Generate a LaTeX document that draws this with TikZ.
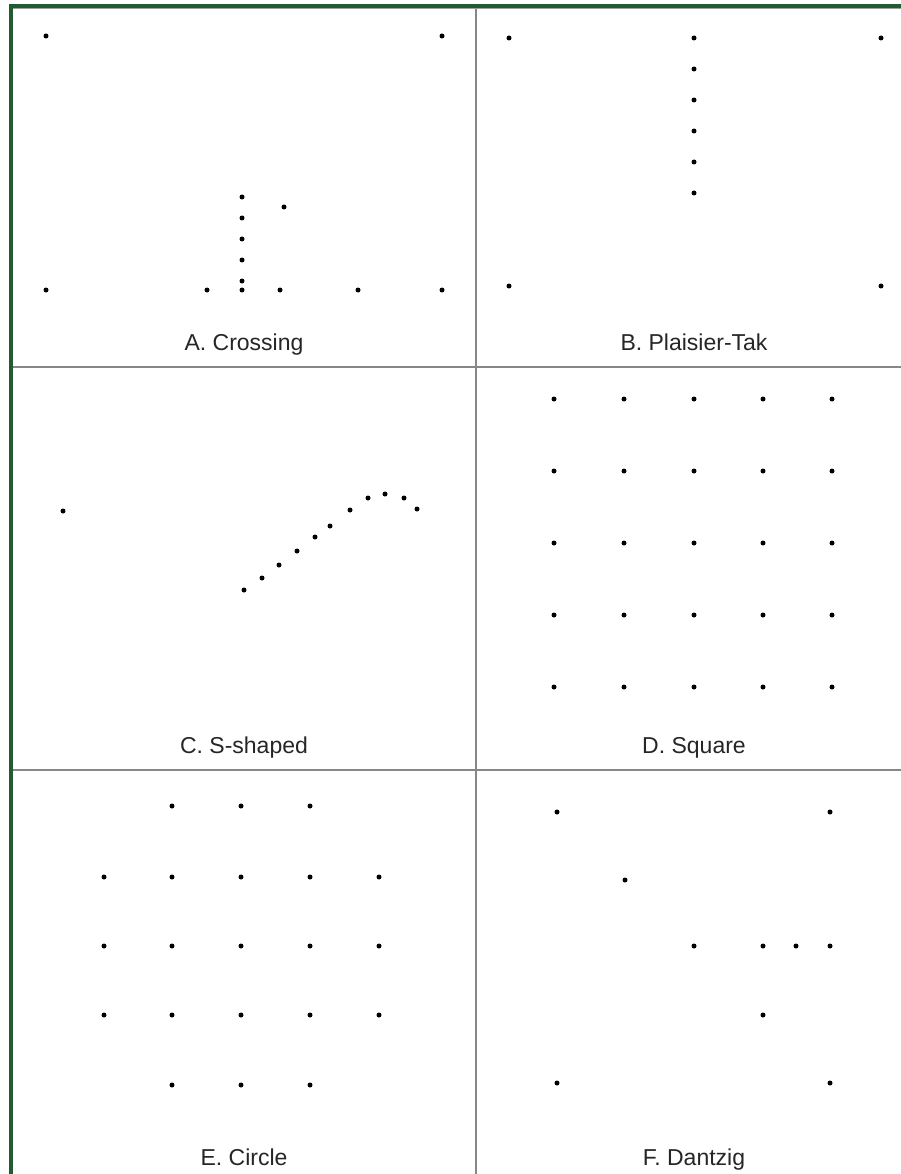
\documentclass[tikz,border=0pt]{standalone}
\usepackage{fontspec}
\setmainfont{Liberation Sans}
\definecolor{framegreen}{RGB}{32,92,48}
\definecolor{gridgray}{RGB}{135,135,135}
\begin{document}
\begin{tikzpicture}[x=1pt,y=-1pt,
  dot/.style={circle,fill=black,inner sep=0pt,minimum size=5pt},
  lbl/.style={anchor=base,inner sep=0pt,font=\fontsize{23}{26}\selectfont,text=black!85},
  gridline/.style={draw=gridgray,line width=2pt},
  frameline/.style={draw=framegreen,line width=3.2pt}]
\useasboundingbox (0,0) rectangle (901,1174);
\fill[white] (0,0) rectangle (901,1174);
% grid
\coordinate (vt) at (476,7);
\coordinate (vb) at (476,1174);
\coordinate (h1l) at (12,367);
\coordinate (h1r) at (901,367);
\coordinate (h2l) at (12,770);
\coordinate (h2r) at (901,770);
\draw[gridline] (vt) -- (vb);
\draw[gridline] (h1l) -- (h1r);
\draw[gridline] (h2l) -- (h2r);
% frame
\coordinate (ftl) at (11,6);
\coordinate (ftr) at (901,6);
\coordinate (fbl) at (11,1174);
\coordinate (gl) at (12,8.6);
\coordinate (gr) at (901,8.6);
\draw[draw=gridgray!80,line width=1.2pt] (gl) -- (gr);
\draw[frameline] (fbl) -- (ftl) -- (ftr);
% A. Crossing
\foreach \x/\y [count=\i] in {46/36,442/36,46/290,207/290,242/290,280/290,358/290,442/290,
  242/197,242/218,242/239,242/260,242/281,284/207}
  \node[dot] (a\i) at (\x,\y) {};
\node[lbl] (la) at (244,350) {A. Crossing};
% B. Plaisier-Tak
\foreach \x/\y [count=\i] in {509/38,881/38,694/38,694/69,694/100,694/131,694/162,694/193,509/286,881/286}
  \node[dot] (b\i) at (\x,\y) {};
\node[lbl] (lb) at (694,350) {B. Plaisier-Tak};
% C. S-shaped
\foreach \x/\y [count=\i] in {63/511,244/590,262/578,279/565,297/551,315/537,330/526,350/510,368/498,385/494,404/498,417/509}
  \node[dot] (c\i) at (\x,\y) {};
\node[lbl] (lc) at (244,753) {C. S-shaped};
% D. Square
\foreach \x [count=\i] in {554,624,694,763,832}
  \foreach \y [count=\j] in {399,471,543,615,687}
    \node[dot] (d\i-\j) at (\x,\y) {};
\node[lbl] (ld) at (694,753) {D. Square};
% E. Circle
\foreach \x [count=\i] in {172,241,310}
  {\node[dot] (et\i) at (\x,806) {};
   \node[dot] (eb\i) at (\x,1085) {};}
\foreach \x [count=\i] in {104,172,241,310,379}
  \foreach \y [count=\j] in {877,946,1015}
    \node[dot] (e\i-\j) at (\x,\y) {};
\node[lbl] (le) at (244,1165) {E. Circle};
% F. Dantzig
\foreach \x/\y [count=\i] in {557/812,830/812,625/880,694/946,763/946,796/946,830/946,763/1015,557/1083,830/1083}
  \node[dot] (f\i) at (\x,\y) {};
\node[lbl] (lf) at (694,1165) {F. Dantzig};
\end{tikzpicture}
\end{document}
